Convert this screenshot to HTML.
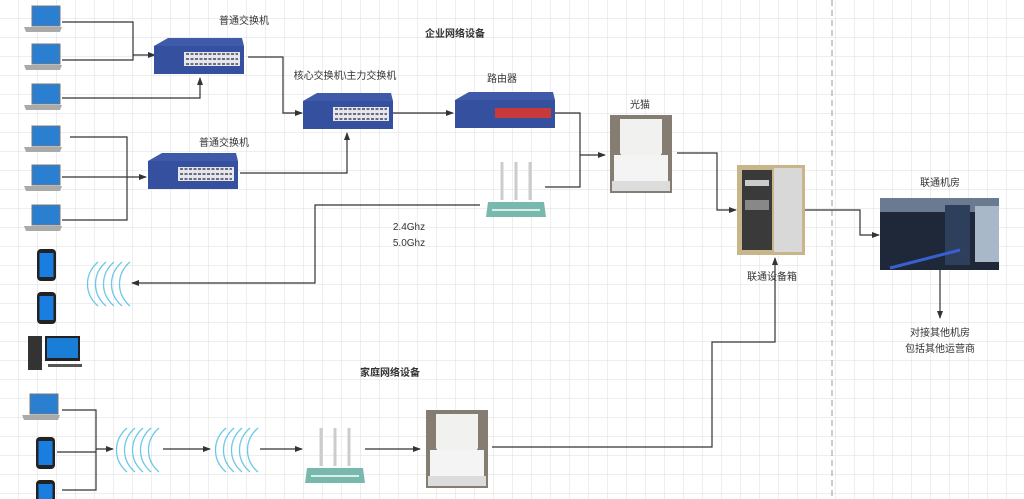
<!DOCTYPE html>
<html><head><meta charset="utf-8"><style>
html,body{margin:0;padding:0;background:#fff;}
svg{display:block;font-family:"Liberation Sans","Noto Sans CJK SC",sans-serif;}
</style></head><body>
<svg width="1024" height="499" viewBox="0 0 1024 499" xmlns="http://www.w3.org/2000/svg">
<defs>
<pattern id="g" width="19" height="19" patternUnits="userSpaceOnUse">
<path d="M19 0V19H0" fill="none" stroke="#dcdcdc" stroke-width="1"/></pattern>
<marker id="a" markerWidth="8" markerHeight="8" refX="7" refY="4" orient="auto" markerUnits="userSpaceOnUse">
<path d="M0 1L8 4L0 7Z" fill="#333"/></marker>
<g id="lap">
<path d="M8 0H36V20H8Z" fill="#2a7fd0" stroke="#777"/>
<path d="M0 21H38L36 26H2Z" fill="#aaa"/>
</g>
<g id="ph"><rect x="0" y="0" width="19" height="32" rx="4" fill="#222"/><rect x="2.5" y="4" width="14" height="24" fill="#1a7ee0"/></g>
<g id="sw">
<path d="M0 8L14 0H88L90 8Z" fill="#3e5aa8"/>
<rect x="0" y="8" width="90" height="28" fill="#34509e"/>
<rect x="30" y="14" width="56" height="14" fill="#e6e6ee"/>
<path d="M32 16h52M32 21h52M32 26h52" stroke="#445" stroke-width="1.5" stroke-dasharray="3 1.5"/>
</g>
<g id="wav" fill="none" stroke="#6cc8e8" stroke-width="1.3">
<path d="M14 0C0 12 0 32 14 44M22 0C8 12 8 32 22 44M30 0C16 12 16 32 30 44M38 0C24 12 24 32 38 44M46 0C32 12 32 32 46 44"/>
</g>
<g id="rt">
<path d="M16 0V38M30 0V38M44 0V38" stroke="#ccc" stroke-width="3"/>
<path d="M2 40H58L60 55H0Z" fill="#79b9ad"/>
<path d="M6 48H54" stroke="#d8eee9" stroke-width="2"/>
</g>
<g id="md">
<rect x="0" y="0" width="62" height="78" fill="#857d72"/>
<path d="M10 4H52V38L46 48H16L10 38Z" fill="#f1f1ef"/>
<path d="M4 40H58V66H4Z" fill="#f4f4f4"/>
<rect x="2" y="66" width="58" height="10" fill="#dcdcdc"/>
</g>
</defs>
<rect width="1024" height="499" fill="url(#g)"/>
<line x1="832" y1="0" x2="832" y2="499" stroke="#999" stroke-dasharray="6 4"/>

<!-- connectors -->
<g fill="none" stroke="#333" stroke-width="1.2">
<path d="M62 22H133V55"/><path d="M62 60H133V55H155" marker-end="url(#a)"/>
<path d="M62 98H200V78" marker-end="url(#a)"/>
<path d="M248 57H283V113H302" marker-end="url(#a)"/>
<path d="M70 137H127V220H62"/><path d="M62 177H146" marker-end="url(#a)"/>
<path d="M240 173H347V133" marker-end="url(#a)"/>
<path d="M392 113H453" marker-end="url(#a)"/>
<path d="M555 113H580V187H545"/><path d="M580 155H605" marker-end="url(#a)"/>
<path d="M480 205H315V283H132" marker-end="url(#a)"/>
<path d="M677 153H717V210H736" marker-end="url(#a)"/>
<path d="M805 210H860V235H879" marker-end="url(#a)"/>
<path d="M940 270V318" marker-end="url(#a)"/>
<path d="M492 447H712V342H775V258" marker-end="url(#a)"/>
<path d="M62 410H96V490H62"/><path d="M57 452H96"/><path d="M96 449H113" marker-end="url(#a)"/>
<path d="M163 449H210" marker-end="url(#a)"/>
<path d="M260 449H302" marker-end="url(#a)"/>
<path d="M365 449H420" marker-end="url(#a)"/>
</g>

<!-- devices -->
<use href="#lap" x="24" y="6"/><use href="#lap" x="24" y="44"/><use href="#lap" x="24" y="84"/>
<use href="#lap" x="24" y="126"/><use href="#lap" x="24" y="165"/><use href="#lap" x="24" y="205"/>
<use href="#lap" x="22" y="394"/>
<use href="#ph" x="37" y="249"/><use href="#ph" x="37" y="292"/>
<use href="#ph" x="36" y="437"/><use href="#ph" x="36" y="480"/>
<rect x="28" y="336" width="14" height="34" fill="#333"/>
<rect x="45" y="336" width="35" height="25" fill="#222"/><rect x="47" y="338" width="31" height="20" fill="#1a7ed8"/>
<rect x="48" y="364" width="34" height="3" fill="#555"/>
<use href="#sw" x="154" y="38"/><use href="#sw" x="303" y="93"/><use href="#sw" x="148" y="153"/>
<g transform="translate(455 92)">
<path d="M0 8L14 0H98L100 8Z" fill="#3e5aa8"/><rect x="0" y="8" width="100" height="28" fill="#34509e"/>
<rect x="40" y="16" width="56" height="10" fill="#c83a3a"/></g>
<use href="#rt" x="486" y="162"/><use href="#rt" x="305" y="428"/>
<use href="#md" x="610" y="115"/><use href="#md" x="426" y="410"/>
<use href="#wav" x="84" y="262"/><use href="#wav" x="113" y="428"/><use href="#wav" x="212" y="428"/>
<!-- cabinet -->
<rect x="737" y="165" width="68" height="90" fill="#c8b58a"/>
<rect x="742" y="170" width="30" height="80" fill="#3a3a3a"/>
<rect x="774" y="168" width="28" height="84" fill="#d8d8d8"/>
<rect x="745" y="180" width="24" height="6" fill="#ccc"/><rect x="745" y="200" width="24" height="10" fill="#888"/>
<!-- machine room -->
<rect x="880" y="198" width="119" height="72" fill="#1e2838"/>
<rect x="880" y="198" width="119" height="14" fill="#6a7a90"/>
<rect x="945" y="205" width="25" height="60" fill="#2d3f5a"/>
<rect x="975" y="206" width="24" height="56" fill="#a9b8c8"/>
<path d="M890 268L960 250" stroke="#3a5fd0" stroke-width="3"/>
</g>

<!-- labels -->
<g font-size="10" fill="#333" text-anchor="middle">
<text x="244" y="24">普通交换机</text>
<text x="345" y="79">核心交换机\主力交换机</text>
<text x="502" y="82">路由器</text>
<text x="224" y="146">普通交换机</text>
<text x="455" y="37" font-weight="bold">企业网络设备</text>
<text x="640" y="108">光猫</text>
<text x="409" y="230">2.4Ghz</text>
<text x="409" y="246">5.0Ghz</text>
<text x="772" y="280">联通设备箱</text>
<text x="940" y="186">联通机房</text>
<text x="940" y="336">对接其他机房</text>
<text x="940" y="352">包括其他运营商</text>
<text x="390" y="376" font-weight="bold">家庭网络设备</text>
</g>
</svg>
</body></html>
